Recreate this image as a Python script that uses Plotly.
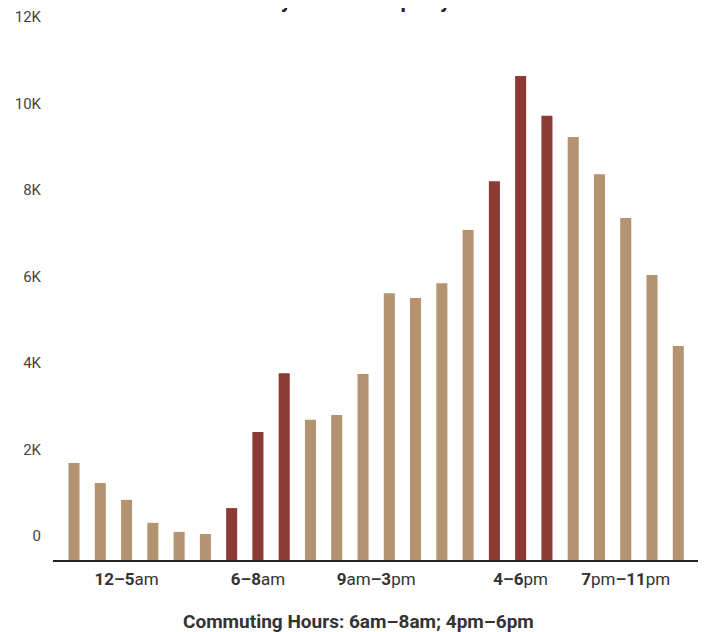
import plotly.graph_objects as go

hours = list(range(24))
trips = [2240, 1780, 1390, 860, 650, 600, 1200, 2960, 4320, 3240, 3350, 4300,
         6170, 6060, 6400, 7630, 8760, 11190, 10270, 9780, 8920, 7910, 6590, 4950]
commute_hours = [6, 7, 8, 16, 17, 18]

x_tick_pos = [2, 7, 11.5, 17, 21]
x_tick_text = ["<b>12–5</b>am", "<b>6–8</b>am", "<b>9</b>am<b>–3</b>pm",
               "<b>4–6</b>pm", "<b>7</b>pm<b>–11</b>pm"]
y_tick_vals = [0, 2000, 4000, 6000, 8000, 10000, 12000]
y_tick_text = ["0", "2K", "4K", "6K", "8K", "10K", "12K"]

title_text = "Weekday Scooter Trips by Hour"
subtitle_text = "Commuting Hours: 6am–8am; 4pm–6pm"

TAN = "#B39370"
RED = "#8B3A36"
colors = [RED if h in commute_hours else TAN for h in hours]

fig = go.Figure(go.Bar(x=hours, y=trips, marker=dict(color=colors, line=dict(width=0)),
                       width=0.42, hoverinfo="x+y"))

fig.update_layout(
    width=699, height=624,
    margin=dict(l=45, r=9, t=33, b=72, autoexpand=False),
    plot_bgcolor="white", paper_bgcolor="white",
    font=dict(family="Roboto, sans-serif", color="#333333"),
    showlegend=False,
    xaxis=dict(range=[-0.8, 23.75], tickvals=x_tick_pos, ticktext=x_tick_text,
               showgrid=False, zeroline=False, showline=True, linecolor="#222222",
               linewidth=2, ticks="", tickfont=dict(size=17, color="#333333"),
               ticklabelstandoff=3, automargin=False),
    yaxis=dict(range=[0, 12000], tickvals=y_tick_vals, ticktext=y_tick_text,
               showgrid=False, zeroline=False, showline=False, ticks="",
               tickfont=dict(size=15, color="#444444"), ticklabelshift=-24,
               ticklabelstandoff=11, automargin=False),
    annotations=[
        dict(text="<b>" + title_text + "</b>", xref="paper", yref="paper",
             x=0.466, y=1 + 40 / 519, xanchor="center", yanchor="middle",
             showarrow=False, font=dict(size=21, color="#222222")),
        dict(text="<b>" + subtitle_text + "</b>", xref="paper", yref="paper",
             x=(358 - 53) / 645, y=(560 - 621) / 519, xanchor="center", yanchor="middle",
             showarrow=False, font=dict(size=19, color="#333333")),
    ],
)

fig.write_html("out.html")
